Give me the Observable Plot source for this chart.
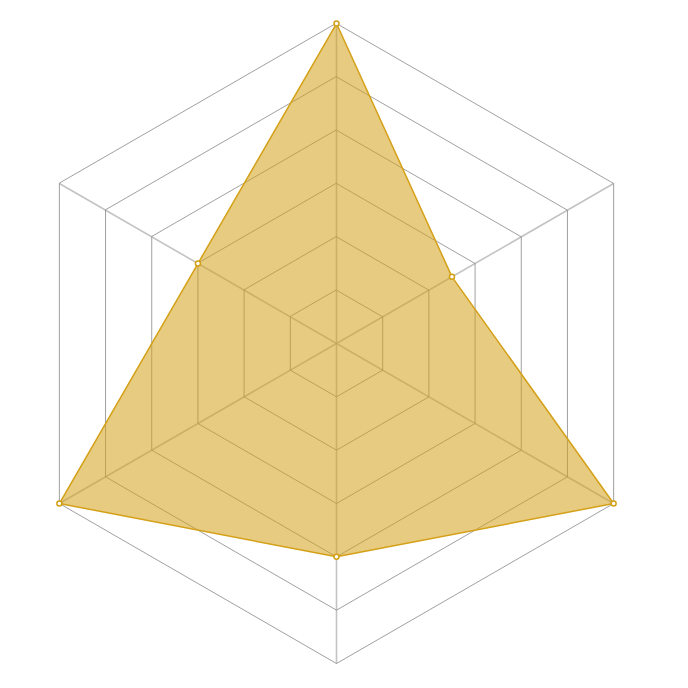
<!DOCTYPE html>
<html>
<head>
<meta charset="utf-8">
<script src="https://cdn.jsdelivr.net/npm/d3@7"></script>
<script src="https://cdn.jsdelivr.net/npm/@observablehq/plot@0.6"></script>
<style>
  html, body { margin: 0; padding: 0; background: #fff; }
  #chart { width: 688px; height: 688px; }
</style>
</head>
<body>
<div id="chart"></div>
<script>
const axes = ["A", "B", "C", "D", "E", "F"];
const values = [6, 2.5, 6, 4, 6, 3];
const rings = [1, 2, 3, 4, 5, 6];
const maxValue = 6;

const angle = i => Math.PI / 2 - i * Math.PI / 3;

const ringPts = rings.flatMap(r => axes.map((a, i) => ({ring: r, x: r * Math.cos(angle(i)), y: r * Math.sin(angle(i))})));
const spokes = axes.map((a, i) => ({axis: a, x: maxValue * Math.cos(angle(i)), y: maxValue * Math.sin(angle(i))}));
const pts = axes.map((a, i) => ({axis: a, x: values[i] * Math.cos(angle(i)), y: values[i] * Math.sin(angle(i))}));

const k = 320 / maxValue;
const chart = Plot.plot({
  width: 688,
  height: 688,
  margin: 0,
  x: {domain: [-336 / k, 352 / k], axis: null},
  y: {domain: [-345 / k, 343 / k], axis: null},
  marks: [
    Plot.link(spokes, {x1: 0, y1: 0, x2: "x", y2: "y", stroke: "#aaa", strokeWidth: 1.6, strokeOpacity: 0.7}),
    Plot.line(ringPts, {x: "x", y: "y", z: "ring", curve: "linear-closed", stroke: "#888", strokeWidth: 0.8}),
    Plot.line(pts, {x: "x", y: "y", curve: "linear-closed", fill: "#d4a017", fillOpacity: 0.55, stroke: "#d4a017", strokeWidth: 1.5}),
    Plot.dot(pts, {x: "x", y: "y", r: 2.5, fill: "white", stroke: "#d4a017", strokeWidth: 1.5})
  ]
});
document.getElementById("chart").appendChild(chart);
</script>
</body>
</html>
